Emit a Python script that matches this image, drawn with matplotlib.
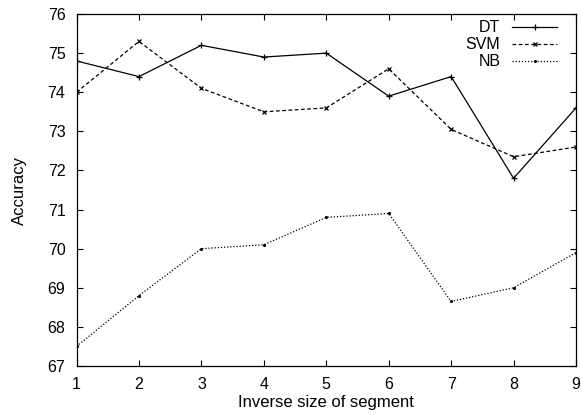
import matplotlib
matplotlib.use("Agg")
import matplotlib.pyplot as plt

plt.rcParams['font.family'] = ['Liberation Sans', 'DejaVu Sans']

x = [1, 2, 3, 4, 5, 6, 7, 8, 9]
dt = [74.8, 74.4, 75.2, 74.9, 75.0, 73.9, 74.4, 71.8, 73.6]
svm = [74.0, 75.3, 74.1, 73.5, 73.6, 74.6, 73.05, 72.35, 72.6]
nb = [67.5, 68.8, 70.0, 70.1, 70.8, 70.9, 68.65, 69.0, 69.9]
labels = ["DT", "SVM", "NB"]
yticks = [67, 68, 69, 70, 71, 72, 73, 74, 75, 76]

fig = plt.figure(figsize=(5.82, 4.2), dpi=100)
ax = fig.add_axes([0.1315, 0.1286, 0.8582, 0.838])

ax.plot(x, dt, color='black', lw=0.9, ls='-', marker='+', ms=5, mew=0.9, label=labels[0])
ax.plot(x, svm, color='black', lw=0.9, ls=(0, (3, 2)), marker='x', ms=3.5, mew=0.9, label=labels[1])
ax.plot(x, nb, color='black', lw=0.9, ls=(0, (1, 1.5)), marker='.', ms=2.5, label=labels[2])

ax.set_xlim(1, 9)
ax.set_ylim(67, 76)
ax.set_xticks(x)
ax.set_yticks(yticks)
ax.tick_params(direction='in', top=True, right=True, length=4, width=0.8, labelsize=11.5, pad=8)
for s in ax.spines.values():
    s.set_linewidth(0.9)

ax.set_xlabel("Inverse size of segment", fontsize=12, labelpad=2)
ax.set_ylabel("Accuracy", fontsize=12, labelpad=15)

leg = ax.legend(loc='upper right', bbox_to_anchor=(0.975, 1.0), frameon=False, markerfirst=False,
                fontsize=11.5, handlelength=2.8, labelspacing=0.12, borderaxespad=0.0,
                handletextpad=0.75)

fig.savefig("out.png", dpi=100)
